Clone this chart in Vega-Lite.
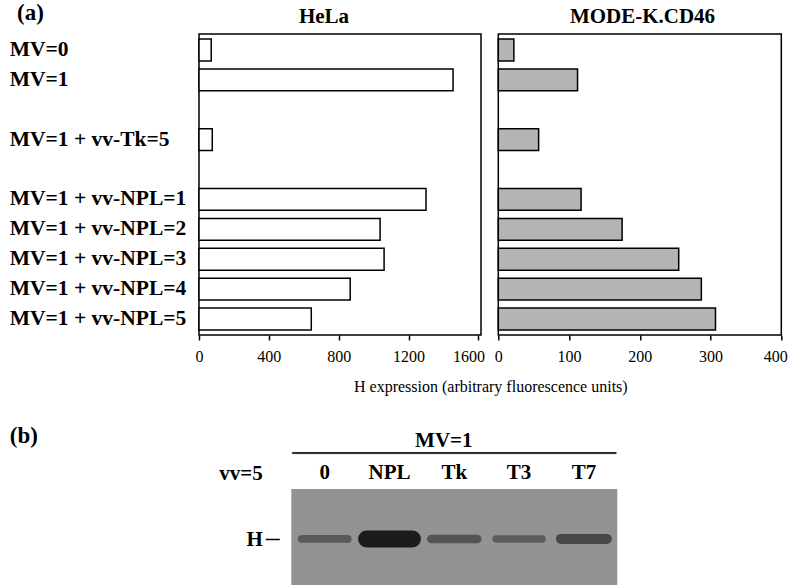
{
  "$schema": "https://vega.github.io/schema/vega-lite/v6.json",
  "background": "white",
  "padding": {"left": 8, "top": 0, "right": 2, "bottom": 2},
  "config": {
    "font": "Liberation Serif",
    "view": {"stroke": "black", "strokeWidth": 1.5},
    "axis": {"labelFont": "Liberation Serif", "titleFont": "Liberation Serif", "labelColor": "black", "titleColor": "black", "grid": false}
  },
  "datasets": {
    "h": [
      {"cell": "HeLa", "condition": "MV=0", "value": 70},
      {"cell": "HeLa", "condition": "MV=1", "value": 1455},
      {"cell": "HeLa", "condition": "MV=1 + vv-Tk=5", "value": 76},
      {"cell": "HeLa", "condition": "MV=1 + vv-NPL=1", "value": 1300},
      {"cell": "HeLa", "condition": "MV=1 + vv-NPL=2", "value": 1037},
      {"cell": "HeLa", "condition": "MV=1 + vv-NPL=3", "value": 1060},
      {"cell": "HeLa", "condition": "MV=1 + vv-NPL=4", "value": 866},
      {"cell": "HeLa", "condition": "MV=1 + vv-NPL=5", "value": 643},
      {"cell": "MODE-K.CD46", "condition": "MV=0", "value": 22},
      {"cell": "MODE-K.CD46", "condition": "MV=1", "value": 112},
      {"cell": "MODE-K.CD46", "condition": "MV=1 + vv-Tk=5", "value": 57},
      {"cell": "MODE-K.CD46", "condition": "MV=1 + vv-NPL=1", "value": 117},
      {"cell": "MODE-K.CD46", "condition": "MV=1 + vv-NPL=2", "value": 175},
      {"cell": "MODE-K.CD46", "condition": "MV=1 + vv-NPL=3", "value": 255},
      {"cell": "MODE-K.CD46", "condition": "MV=1 + vv-NPL=4", "value": 287},
      {"cell": "MODE-K.CD46", "condition": "MV=1 + vv-NPL=5", "value": 307}
    ],
    "blot": [
      {"lane": "0", "intensity": 0.32},
      {"lane": "NPL", "intensity": 1.0},
      {"lane": "Tk", "intensity": 0.38},
      {"lane": "T3", "intensity": 0.3},
      {"lane": "T7", "intensity": 0.5}
    ]
  },
  "spacing": 29,
  "vconcat": [
    {
      "hconcat": [
        {
          "width": 282,
          "height": 301,
          "data": {"name": "h"},
          "transform": [{"filter": "datum.cell === 'HeLa'"}],
          "mark": {"type": "bar", "fill": "white", "stroke": "black", "strokeWidth": 1.5},
          "encoding": {
            "y": {
              "field": "condition", "type": "nominal", "sort": null,
              "scale": {"domain": ["MV=0", "MV=1", " ", "MV=1 + vv-Tk=5", "  ", "MV=1 + vv-NPL=1", "MV=1 + vv-NPL=2", "MV=1 + vv-NPL=3", "MV=1 + vv-NPL=4", "MV=1 + vv-NPL=5"], "paddingInner": 0.27, "paddingOuter": 0.17},
              "axis": {
                "title": "(a)", "titleAngle": 0, "titleX": -169, "titleY": -22, "titleFontSize": 23, "titleFontWeight": "bold", "titleAlign": "center", "titleBaseline": "middle",
                "labelFontSize": 21.5, "labelFontWeight": "bold", "labelAlign": "left", "labelBaseline": "middle", "labelPadding": 189.7, "labelLimit": 300, "ticks": false, "domain": false
              }
            },
            "x": {
              "field": "value", "type": "quantitative",
              "scale": {"domain": [0, 1615], "nice": false},
              "axis": {
                "values": [0, 400, 800, 1200, 1600], "format": "d",
                "title": "HeLa", "titleX": 124.5, "titleY": -313, "titleAlign": "center", "titleBaseline": "alphabetic", "titleFontSize": 21, "titleFontWeight": "bold",
                "labelFontSize": 16, "labelFlush": false, "labelPadding": 8,
                "labelOffset": {"condition": {"test": "datum.value === 1600", "value": -10}, "value": 0},
                "tickSize": 5, "tickWidth": 1.5, "tickColor": "black", "domain": false
              }
            }
          }
        },
        {
          "width": 283,
          "height": 301,
          "data": {"name": "h"},
          "transform": [{"filter": "datum.cell === 'MODE-K.CD46'"}],
          "mark": {"type": "bar", "fill": "#b4b4b4", "stroke": "black", "strokeWidth": 1.5},
          "encoding": {
            "y": {
              "field": "condition", "type": "nominal", "sort": null,
              "scale": {"domain": ["MV=0", "MV=1", " ", "MV=1 + vv-Tk=5", "  ", "MV=1 + vv-NPL=1", "MV=1 + vv-NPL=2", "MV=1 + vv-NPL=3", "MV=1 + vv-NPL=4", "MV=1 + vv-NPL=5"], "paddingInner": 0.27, "paddingOuter": 0.17},
              "axis": {
                "labels": false, "ticks": false, "domain": false,
                "title": "H expression (arbitrary fluorescence units)", "titleAngle": 0, "titleX": -8, "titleY": 357, "titleAlign": "center", "titleBaseline": "alphabetic", "titleFontSize": 16, "titleFontWeight": "normal"
              }
            },
            "x": {
              "field": "value", "type": "quantitative",
              "scale": {"domain": [0, 400], "nice": false},
              "axis": {
                "values": [0, 100, 200, 300, 400],
                "title": "MODE-K.CD46", "titleX": 143.7, "titleY": -313, "titleAlign": "center", "titleBaseline": "alphabetic", "titleFontSize": 21, "titleFontWeight": "bold",
                "labelFontSize": 16, "labelFlush": false, "labelPadding": 8,
                "labelOffset": {"condition": {"test": "datum.value === 400", "value": -6}, "value": 0},
                "tickSize": 5, "tickWidth": 1.5, "tickColor": "black", "domain": false
              }
            }
          }
        }
      ],
      "spacing": 17.3,
      "bounds": "flush"
    },
    {
      "width": 417.3,
      "height": 133,
      "view": {"stroke": null},
      "data": {"name": "blot"},
      "encoding": {
        "x": {
          "field": "lane", "type": "nominal", "sort": null,
          "scale": {"domain": ["0", "NPL", "Tk", "T3", "T7"], "paddingInner": 0, "paddingOuter": 0.72, "align": 1},
          "axis": {"orient": "top", "labels": false, "ticks": false, "domain": false, "title": "MV=1", "titleX": 244.3, "titleY": -5, "titleAlign": "center", "titleBaseline": "alphabetic", "titleFontSize": 21, "titleFontWeight": "bold"}
        }
      },
      "layer": [
        {
          "mark": {"type": "rect", "fill": "#939393", "stroke": "#939393", "strokeWidth": 2},
          "encoding": {
            "y": {
              "datum": 0, "type": "quantitative",
              "scale": {"domain": [0, 1], "nice": false, "zero": false},
              "axis": {
                "values": [0.338, 0.831],
                "labelExpr": "datum.value < 0.5 ? 'H' : 'vv=5'",
                "labelFontSize": 21, "labelFontWeight": "bold", "labelPadding": 3, "labelBaseline": "middle",
                "tickSize": 14, "tickWidth": 1.5, "tickColor": "black",
                "tickOpacity": {"condition": {"test": "datum.value < 0.5", "value": 1}, "value": 0},
                "offset": -80.3, "domain": false,
                "title": "(b)", "titleAngle": 0, "titleFontSize": 23, "titleFontWeight": "bold", "titleX": -270, "titleY": -16, "titleAlign": "left", "titleBaseline": "middle"
              }
            },
            "y2": {"datum": 0.707}
          }
        },
        {
          "mark": {"type": "rect", "cornerRadius": 4, "width": {"band": 0.8}},
          "encoding": {
            "y": {"datum": 0.316, "type": "quantitative"},
            "y2": {"datum": 0.361},
            "fill": {"field": "intensity", "type": "quantitative", "scale": {"domain": [0, 1], "range": ["#7a7a7a", "#1c1c1c"]}, "legend": null},
            "stroke": {"field": "intensity", "type": "quantitative", "scale": {"domain": [0, 1], "range": ["#7a7a7a", "#1c1c1c"]}, "legend": null},
            "strokeWidth": {"field": "intensity", "type": "quantitative", "scale": {"domain": [0.3, 1], "range": [1.5, 11]}, "legend": null}
          }
        },
        {
          "mark": {"type": "text", "fontSize": 21, "fontWeight": "bold", "font": "Liberation Serif", "color": "black", "baseline": "middle"},
          "encoding": {
            "y": {"datum": 0.831, "type": "quantitative"},
            "text": {"field": "lane"}
          }
        },
        {
          "mark": {"type": "rect", "fill": "black", "stroke": "black", "strokeWidth": 0.3},
          "encoding": {
            "y": {"datum": 0.979, "type": "quantitative"},
            "y2": {"datum": 0.99}
          }
        }
      ]
    }
  ]
}
